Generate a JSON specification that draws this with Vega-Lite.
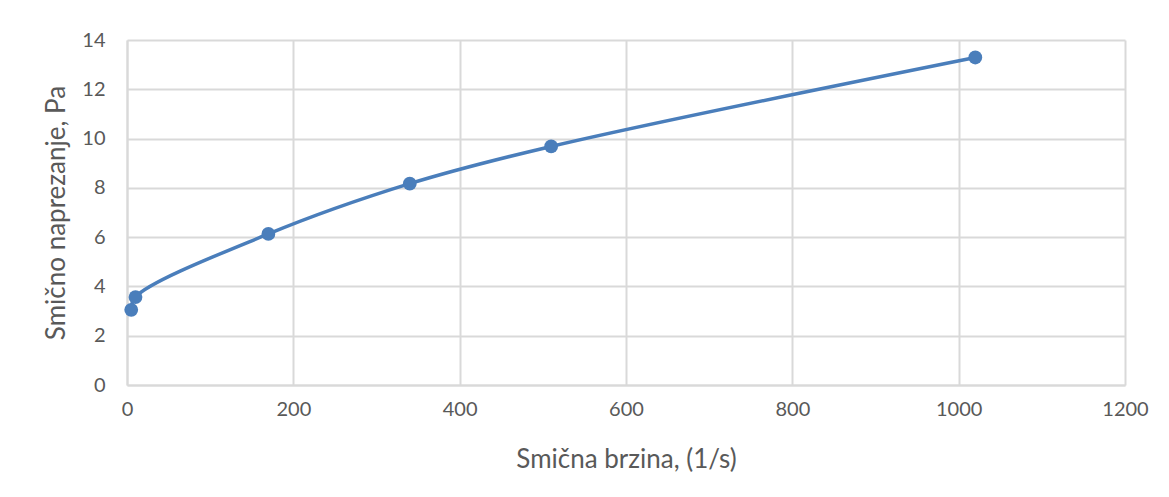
{
  "$schema": "https://vega.github.io/schema/vega-lite/v6.json",
  "width": 998,
  "height": 345,
  "autosize": {"type": "none"},
  "padding": {"left": 127, "top": 40, "right": 44, "bottom": 112},
  "background": "white",
  "config": {
    "view": {"stroke": null},
    "font": "Lato"
  },
  "data": {
    "values": [
      {"rate": 5.1, "stress": 3.05},
      {"rate": 10.2, "stress": 3.57},
      {"rate": 170, "stress": 6.13},
      {"rate": 340, "stress": 8.17},
      {"rate": 510, "stress": 9.68},
      {"rate": 1020, "stress": 13.29}
    ]
  },
  "encoding": {
    "x": {
      "field": "rate", "type": "quantitative",
      "scale": {"domain": [0, 1200], "nice": false},
      "axis": {
        "values": [0, 200, 400, 600, 800, 1000, 1200],
        "format": "d",
        "labelFlush": false,
        "title": "Smična brzina, (1/s)",
        "titleFont": "Lato", "titleFontSize": 26, "titleFontWeight": "normal", "titleColor": "#595959",
        "titlePadding": 27,
        "labelFont": "Lato", "labelFontSize": 20, "labelColor": "#595959", "labelPadding": 14,
        "ticks": false,
        "domainColor": "#d9d9d9", "domainWidth": 2,
        "gridColor": "#d9d9d9", "gridWidth": 2
      }
    },
    "y": {
      "field": "stress", "type": "quantitative",
      "scale": {"domain": [0, 14], "nice": false},
      "axis": {
        "values": [0, 2, 4, 6, 8, 10, 12, 14],
        "labelFlush": false,
        "title": "Smično naprezanje, Pa",
        "titleFont": "Lato", "titleFontSize": 26, "titleFontWeight": "normal", "titleColor": "#595959",
        "titlePadding": 12,
        "labelFont": "Lato", "labelFontSize": 20, "labelColor": "#595959", "labelPadding": 22,
        "ticks": false,
        "domainColor": "#d9d9d9", "domainWidth": 2,
        "gridColor": "#d9d9d9", "gridWidth": 2
      }
    }
  },
  "layer": [
    {"mark": {"type": "line", "interpolate": "catmull-rom", "color": "#4a7ebb", "strokeWidth": 3.5}},
    {"mark": {"type": "point", "filled": true, "color": "#4a7ebb", "opacity": 1, "size": 190}}
  ]
}
